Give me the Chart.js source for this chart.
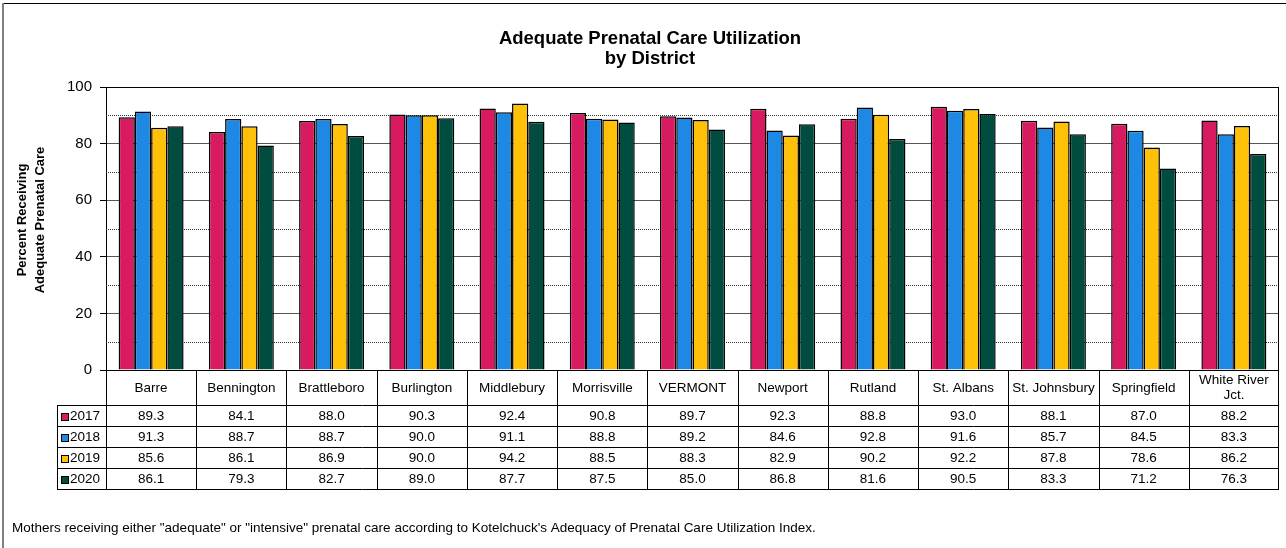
<!DOCTYPE html>
<html>
<head>
<meta charset="utf-8">
<script src="https://cdn.jsdelivr.net/npm/chart.js@4.4.1/dist/chart.umd.min.js"></script>
<style>
  html, body { margin: 0; padding: 0; background: #fff; }
  #wrap { width: 1286px; height: 548px; position: relative; }
</style>
</head>
<body>
<div id="wrap"><canvas id="c" width="1286" height="548"></canvas></div>
<script>
const categories = [["Barre"], ["Bennington"], ["Brattleboro"], ["Burlington"], ["Middlebury"], ["Morrisville"], ["VERMONT"], ["Newport"], ["Rutland"], ["St. Albans"], ["St. Johnsbury"], ["Springfield"], ["White River", "Jct."]];
const years = ["2017", "2018", "2019", "2020"];
const values2017 = [89.3, 84.1, 88.0, 90.3, 92.4, 90.8, 89.7, 92.3, 88.8, 93.0, 88.1, 87.0, 88.2];
const values2018 = [91.3, 88.7, 88.7, 90.0, 91.1, 88.8, 89.2, 84.6, 92.8, 91.6, 85.7, 84.5, 83.3];
const values2019 = [85.6, 86.1, 86.9, 90.0, 94.2, 88.5, 88.3, 82.9, 90.2, 92.2, 87.8, 78.6, 86.2];
const values2020 = [86.1, 79.3, 82.7, 89.0, 87.7, 87.5, 85.0, 86.8, 81.6, 90.5, 83.3, 71.2, 76.3];
const colors = ["#D81B60", "#1E88E5", "#FFC107", "#004D40"];
const yTicks = [0, 20, 40, 60, 80, 100];
const titleLines = ["Adequate Prenatal Care Utilization", "by District"];
const yTitleLines = ["Percent Receiving", "Adequate Prenatal Care"];
const footnote = "Mothers receiving either \"adequate\" or \"intensive\" prenatal care according to Kotelchuck's Adequacy of Prenatal Care Utilization Index.";

const seriesValues = [values2017, values2018, values2019, values2020];
const FONT = "Arial, 'Liberation Sans', sans-serif";

const tablePlugin = {
  id: 'tablePlugin',
  beforeDatasetsDraw(chart) {
    const ctx = chart.ctx, ca = chart.chartArea, y = chart.scales.y;
    ctx.save();
    ctx.strokeStyle = '#333';
    ctx.lineWidth = 1;
    ctx.setLineDash([1, 1]);
    for (let v = 10; v < 100; v += 20) {
      const py = Math.round(y.getPixelForValue(v)) + 0.5;
      ctx.beginPath(); ctx.moveTo(ca.left, py); ctx.lineTo(ca.right, py); ctx.stroke();
    }
    ctx.restore();
  },
  afterDraw(chart) {
    const ctx = chart.ctx, ca = chart.chartArea, x = chart.scales.x;
    const n = categories.length;
    const colW = (ca.right - ca.left) / n;
    const top = Math.round(ca.bottom);
    const headerBottom = top + 35;
    const rowH = 21;
    const legendLeft = 57;
    const tableBottom = headerBottom + rowH * years.length;
    ctx.save();
    ctx.strokeStyle = '#000'; ctx.lineWidth = 1;
    ctx.beginPath(); ctx.moveTo(2, 3.5); ctx.lineTo(1286, 3.5); ctx.stroke();
    ctx.strokeStyle = '#808080'; ctx.lineWidth = 2;
    ctx.beginPath(); ctx.moveTo(3, 3); ctx.lineTo(3, 548); ctx.stroke();

    ctx.strokeStyle = '#000'; ctx.lineWidth = 1;
    const rx = Math.round(ca.right) - 0.5;
    ctx.beginPath(); ctx.moveTo(rx, ca.top); ctx.lineTo(rx, ca.bottom); ctx.stroke();

    ctx.beginPath();
    for (let i = 0; i <= n; i++) {
      const ex = Math.round(x.getPixelForValue(i) - colW / 2) + 0.5;
      const exx = i === n ? rx : ex;
      ctx.moveTo(exx, top); ctx.lineTo(exx, tableBottom + 0.5);
    }
    ctx.moveTo(legendLeft + 0.5, headerBottom); ctx.lineTo(legendLeft + 0.5, tableBottom + 0.5);
    for (let r = 0; r <= years.length; r++) {
      const py = headerBottom + r * rowH + 0.5;
      ctx.moveTo(legendLeft, py); ctx.lineTo(ca.right, py);
    }
    ctx.stroke();

    ctx.fillStyle = '#000';
    ctx.font = '13.5px ' + FONT;
    ctx.textAlign = 'center';
    ctx.textBaseline = 'middle';
    categories.forEach((lines, i) => {
      const cx = x.getPixelForValue(i);
      const mid = (top + headerBottom) / 2;
      if (lines.length === 1) {
        ctx.fillText(lines[0], cx, mid + 1);
      } else {
        ctx.fillText(lines[0], cx, mid - 7);
        ctx.fillText(lines[1], cx, mid + 8);
      }
    });
    seriesValues.forEach((vals, r) => {
      const cy = headerBottom + r * rowH + rowH / 2 + 1;
      vals.forEach((v, i) => {
        ctx.fillText(v.toFixed(1), x.getPixelForValue(i), cy);
      });
    });
    ctx.textAlign = 'left';
    years.forEach((yr, r) => {
      const cy = headerBottom + r * rowH + rowH / 2 + 1;
      ctx.fillStyle = colors[r];
      ctx.fillRect(61, Math.round(cy - 4), 8, 8);
      ctx.strokeStyle = '#000'; ctx.lineWidth = 1;
      ctx.strokeRect(61.5, Math.round(cy - 4) + 0.5, 7, 7);
      ctx.fillStyle = '#000';
      ctx.fillText(yr, 70, cy);
    });

    ctx.textAlign = 'center';
    ctx.font = 'bold 18.5px ' + FONT;
    ctx.fillText(titleLines[0], 650, 39);
    ctx.fillText(titleLines[1], 650, 59);

    ctx.save();
    ctx.font = 'bold 13px ' + FONT;
    ctx.translate(0, 220);
    ctx.rotate(-Math.PI / 2);
    ctx.fillText(yTitleLines[0], 0, 22);
    ctx.fillText(yTitleLines[1], 0, 40);
    ctx.restore();

    ctx.textAlign = 'left';
    ctx.textBaseline = 'alphabetic';
    ctx.font = '13.5px ' + FONT;
    ctx.fillText(footnote, 12, 532);
    ctx.restore();
  }
};

new Chart(document.getElementById('c'), {
  type: 'bar',
  data: {
    labels: categories.map(c => c.join(' ')),
    datasets: years.map((yr, i) => ({
      label: yr,
      data: seriesValues[i],
      backgroundColor: colors[i],
      borderColor: '#000',
      borderWidth: 1.5,
      categoryPercentage: 0.72,
      barPercentage: 1.0
    }))
  },
  options: {
    responsive: false,
    animation: false,
    devicePixelRatio: 1,
    layout: { padding: { top: 87, bottom: 178, right: 7, left: 0 } },
    plugins: { legend: { display: false }, title: { display: false }, tooltip: { enabled: false } },
    scales: {
      x: { display: false },
      y: {
        min: 0, max: 100,
        afterFit(scale) { scale.width = 106; },
        afterBuildTicks(scale) { scale.ticks = yTicks.map(v => ({ value: v })); },
        ticks: {
          color: '#000',
          padding: 8,
          font: { family: FONT, size: 15 },
          callback: v => v
        },
        grid: {
          color: ctx => (ctx.tick && (ctx.tick.value === 100 || ctx.tick.value === 0)) ? '#000' : '#555',
          tickColor: '#000',
          tickLength: 6,
          lineWidth: 1
        },
        border: { display: true, color: '#000', width: 1 }
      }
    }
  },
  plugins: [tablePlugin]
});
</script>
</body>
</html>
